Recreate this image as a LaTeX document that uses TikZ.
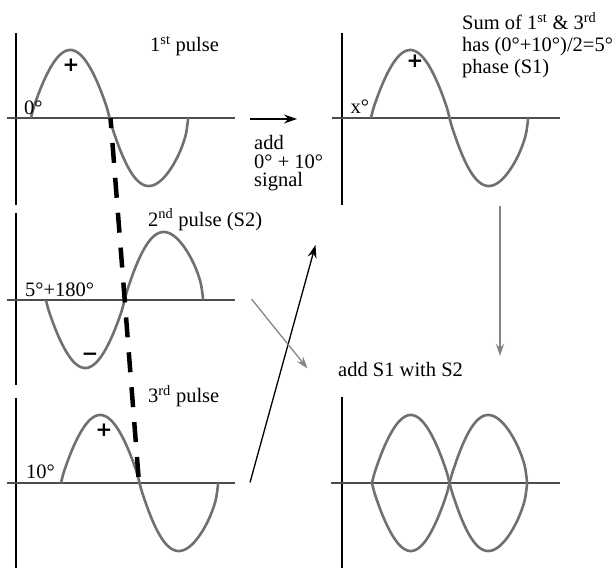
\documentclass[tikz,border=0pt]{standalone}
\usepackage{fontspec}
\setmainfont{Liberation Serif}
\newfontfamily\signfont{DejaVu Sans}
\usetikzlibrary{arrows.meta}
\definecolor{wavegray}{HTML}{707070}
\definecolor{axisgray}{HTML}{4D4D4D}
\definecolor{arrowgray}{HTML}{858585}
\begin{document}
\begin{tikzpicture}[x=1pt,y=1pt,
  wave/.style={draw=wavegray, line width=2.6pt, line join=round},
  haxis/.style={draw=axisgray, line width=1.8pt},
  vaxis/.style={draw=black, line width=1.2pt},
  lbl/.style={anchor=base west, inner sep=0pt, font=\fontsize{20.5}{22}\selectfont},
  sign/.style={inner sep=0pt, font=\signfont\bfseries\fontsize{20}{20}\selectfont},
  blackarrow/.style={draw=black, line width=1.3pt, -{Stealth[length=13pt,width=9pt]}},
  grayarrow/.style={draw=arrowgray, line width=1.3pt, -{Stealth[length=12pt,width=8pt]}},
  pulsedash/.style={draw=black, line width=4.5pt, dash pattern=on 20pt off 15pt, dash phase=10pt}
]
\useasboundingbox (0,0) rectangle (613,568);

% axes
\draw[vaxis] (16,535) -- (16,363);
\draw[vaxis] (16,355) -- (16,183);
\draw[vaxis] (16,170) -- (16,0);
\draw[vaxis] (342,535) -- (342,363);
\draw[vaxis] (342,171) -- (342,0);
\draw[haxis] (7,450) -- (235,450);
\draw[haxis] (7,268) -- (235,268);
\draw[haxis] (7,85) -- (235,85);
\draw[haxis] (332,450) -- (560,450);
\draw[haxis] (331,85) -- (560,85);

% waves (second half-lobe ends more steeply)
\draw[wave] (31,450)
  -- plot[domain=0.2:179.8, samples=50, smooth] ({31+\x/180*78.5}, {450+68*(sin(\x))^0.85})
  -- (109.5,450)
  -- plot[domain=0.2:179.8, samples=50, smooth] ({109.5+\x/180*78.5}, {450-68*(sin(\x))^(0.9-0.32*\x/180)})
  -- (188,450);
\draw[wave] (46,268)
  -- plot[domain=0.2:179.8, samples=50, smooth] ({46+\x/180*78.5}, {268-68*(sin(\x))^0.85})
  -- (124.5,268)
  -- plot[domain=0.2:179.8, samples=50, smooth] ({124.5+\x/180*78.5}, {268+68*(sin(\x))^(0.9-0.32*\x/180)})
  -- (203,268);
\draw[wave] (61,85)
  -- plot[domain=0.2:179.8, samples=50, smooth] ({61+\x/180*78.5}, {85+68*(sin(\x))^0.85})
  -- (139.5,85)
  -- plot[domain=0.2:179.8, samples=50, smooth] ({139.5+\x/180*78.5}, {85-68*(sin(\x))^(0.9-0.32*\x/180)})
  -- (218,85);
\draw[wave] (371,450)
  -- plot[domain=0.2:179.8, samples=50, smooth] ({371+\x/180*78.5}, {450+68*(sin(\x))^0.85})
  -- (449.5,450)
  -- plot[domain=0.2:179.8, samples=50, smooth] ({449.5+\x/180*78.5}, {450-68*(sin(\x))^(0.9-0.32*\x/180)})
  -- (528,450);
\draw[wave] (372,85)
  -- plot[domain=0.2:179.8, samples=50, smooth] ({372+\x/180*77.5}, {85+68*(sin(\x))^0.85})
  -- (449.5,85)
  -- plot[domain=0.2:179.8, samples=50, smooth] ({449.5+\x/180*77.5}, {85-68*(sin(\x))^(0.9-0.32*\x/180)})
  -- (527,85);
\draw[wave] (372,85)
  -- plot[domain=0.2:179.8, samples=50, smooth] ({372+\x/180*77.5}, {85-68*(sin(\x))^0.85})
  -- (449.5,85)
  -- plot[domain=0.2:179.8, samples=50, smooth] ({449.5+\x/180*77.5}, {85+68*(sin(\x))^(0.9-0.32*\x/180)})
  -- (527,85);

% dashed line through the zero crossings
\coordinate (z1) at (110.5,450);
\coordinate (z3) at (139,85);
\draw[pulsedash] (z1) -- (z3);

% labels
\node[lbl] (p1) at (150,516) {1\textsuperscript{st} pulse};
\node[lbl] (ph1) at (24,453) {0°};
\node[lbl] (p2) at (148,341.5) {2\textsuperscript{nd} pulse (S2)};
\node[lbl] (ph2) at (25,271.5) {5°+180°};
\node[lbl] (p3) at (148,165) {3\textsuperscript{rd} pulse};
\node[lbl] (ph3) at (26,90) {10°};
\node[lbl] (phx) at (350.5,454.5) {x°};
\node[lbl] (s1) at (462,538) {Sum of 1\textsuperscript{st} \& 3\textsuperscript{rd}};
\node[lbl] (s2) at (462,516) {has (0°+10°)/2=5°};
\node[lbl] (s3) at (462,494) {phase (S1)};
\node[lbl] (ad1) at (254,418) {add};
\node[lbl] (ad2) at (254,399.5) {0° + 10°};
\node[lbl] (ad3) at (254,381) {signal};
\node[lbl] (ad4) at (338,191.5) {add S1 with S2};

% signs
\node[sign] (plus1) at (71,503) {+};
\node[sign] (minus2) at (90,211.5) {−};
\node[sign] (plus3) at (104,138) {+};
\node[sign] (plus4) at (415,507) {+};

% arrows
\coordinate (a1s) at (250,449);
\coordinate (a1e) at (297,449);
\draw[blackarrow] (a1s) -- (a1e);
\coordinate (a2s) at (250,85.5);
\coordinate (a2e) at (315.5,323);
\draw[blackarrow] (a2s) -- (a2e);
\coordinate (a3s) at (251.5,269);
\coordinate (a3e) at (307.5,199.5);
\draw[grayarrow] (a3s) -- (a3e);
\coordinate (a4s) at (500,362);
\coordinate (a4e) at (500,212);
\draw[grayarrow] (a4s) -- (a4e);
\end{tikzpicture}
\end{document}
